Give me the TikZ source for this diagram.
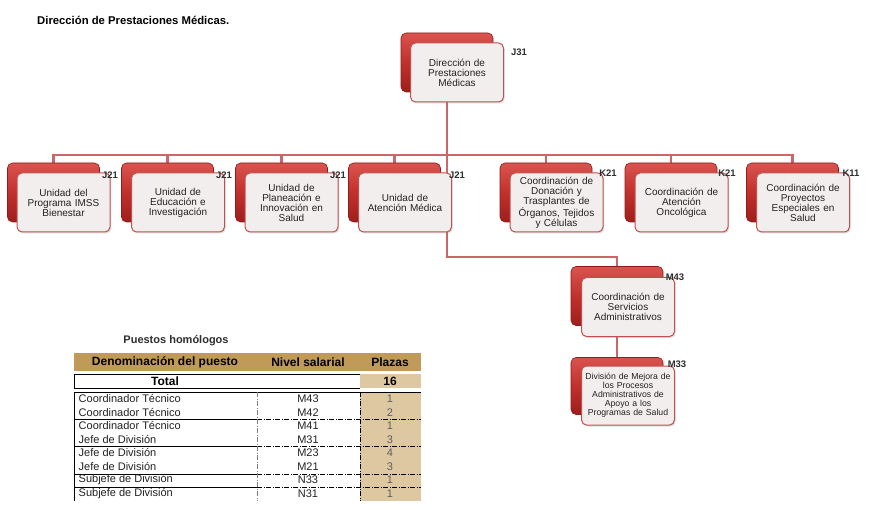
\documentclass[tikz,border=0pt]{standalone}
\usepackage{fontspec}
\setmainfont{Liberation Sans}
\usetikzlibrary{shadows}
\definecolor{conncol}{HTML}{C96868}
\definecolor{redtop}{HTML}{D9544F}
\definecolor{redmid}{HTML}{C2302C}
\definecolor{redbot}{HTML}{9E1E1C}
\definecolor{reddraw}{HTML}{8E1C1A}
\definecolor{frontfill}{HTML}{F3EEEE}
\definecolor{frontdraw}{HTML}{C0504D}
\definecolor{hdrtan}{HTML}{BF9A58}
\definecolor{celltan}{HTML}{DDC8A2}
\definecolor{numgray}{HTML}{5E5E5E}
\definecolor{txtdark}{HTML}{222222}
\definecolor{lblcol}{HTML}{2E2E2E}
\begin{document}
\begin{tikzpicture}[x=1pt,y=-1pt,
 redbox/.style={draw=reddraw, line width=0.6pt, rounded corners=5pt, top color=redtop, bottom color=redbot, middle color=redmid, minimum width=92pt, minimum height=59pt, inner sep=0pt},
 frontbox/.style={draw=frontdraw, line width=1pt, fill=frontfill, rounded corners=5pt, minimum width=93pt, minimum height=59pt, inner sep=1pt, text width=88pt, align=center, font=\fontsize{10}{10}\selectfont, text=txtdark, drop shadow={shadow xshift=1.2pt, shadow yshift=-1.5pt, opacity=0.25}},
 smalltext/.style={font=\fontsize{8.7}{9}\selectfont},
 lbl/.style={font=\fontsize{9.5}{10}\bfseries\selectfont, text=lblcol, inner sep=0pt},
 conn/.style={draw=conncol, line width=2.4pt},
 hdr/.style={font=\fontsize{12}{12}\bfseries\selectfont, inner sep=0pt},
 cell/.style={font=\fontsize{11}{12}\selectfont, inner sep=0pt, text=txtdark},
 numcell/.style={font=\fontsize{11}{12}\selectfont, inner sep=0pt, text=numgray},
 dashdotline/.style={dash pattern=on 5pt off 1.5pt on 1pt off 1.5pt}
]
\useasboundingbox (0,0) rectangle (869,510);
\fill[white] (0,0) rectangle (869,510);

% title
\node[anchor=west, font=\fontsize{11.3}{12}\bfseries\selectfont, inner sep=0pt] (title) at (37,20) {Dirección de Prestaciones Médicas.};

% coordinates for connectors
\coordinate (b1) at (53.5,155);
\coordinate (b7) at (792.5,155);
\coordinate (bend1) at (447,257);
\coordinate (bend2) at (617,257);

% positions of the back boxes
\path (447,62.5) coordinate (pt);
\path (53.5,192.5) coordinate (p1);
\path (167.5,192.5) coordinate (p2);
\path (281.5,192.5) coordinate (p3);
\path (394.5,192.5) coordinate (p4);
\path (546,192.5) coordinate (p5);
\path (671,192.5) coordinate (p6);
\path (792.5,192.5) coordinate (p7);
\path (617,296) coordinate (pm43);
\path (617,386) coordinate (pm33);

% connectors
\draw[conn] (pt) -- (bend1) -- (bend2) -- (pm43);
\draw[conn] (p1) -- (b1) -- (b7) -- (p7);
\foreach \k in {2,3,4,5,6}{\draw[conn] (p\k) -- (p\k |- b1);}
\draw[conn] (pm43) -- (pm33);

% red boxes
\node[redbox] (rt) at (pt) {};
\node[redbox] (r1) at (p1) {};
\node[redbox] (r2) at (p2) {};
\node[redbox] (r3) at (p3) {};
\node[redbox] (r4) at (p4) {};
\node[redbox] (r5) at (p5) {};
\node[redbox] (r6) at (p6) {};
\node[redbox] (r7) at (p7) {};
\node[redbox] (rm43) at (pm43) {};
\node[redbox, minimum height=57pt] (rm33) at (pm33) {};

% front boxes
\node[frontbox] (ft) at (457,72.5) {Dirección de\\Prestaciones\\Médicas};
\node[frontbox] (f1) at (63.5,202.5) {Unidad del\\Programa IMSS\\Bienestar};
\node[frontbox] (f2) at (178,202.5) {Unidad de\\Educación e\\Investigación};
\node[frontbox] (f3) at (291.5,202.5) {Unidad de\\Planeación e\\Innovación en\\Salud};
\node[frontbox] (f4) at (405,202.5) {Unidad de\\Atención Médica};
\node[frontbox] (f5) at (556.5,202.5) {Coordinación de\\Donación y\\Trasplantes de\\Órganos, Tejidos\\y Células};
\node[frontbox] (f6) at (681.5,202.5) {Coordinación de\\Atención\\Oncológica};
\node[frontbox] (f7) at (803,202.5) {Coordinación de\\Proyectos\\Especiales en\\Salud};
\node[frontbox] (fm43) at (628,307) {Coordinación de\\Servicios\\Administrativos};
\node[frontbox, smalltext] (fm33) at (628,395.5) {División de Mejora de\\los Procesos\\Administrativos de\\Apoyo a los\\Programas de Salud};

% level labels
\node[lbl] (lt) at (519,52) {J31};
\node[lbl] (l1) at (110,175) {J21};
\node[lbl] (l2) at (224,175) {J21};
\node[lbl] (l3) at (338,175) {J21};
\node[lbl] (l4) at (457,175) {J21};
\node[lbl] (l5) at (608,173) {K21};
\node[lbl] (l6) at (727,173) {K21};
\node[lbl] (l7) at (851,173) {K11};
\node[lbl] (lm43) at (675,277) {M43};
\node[lbl] (lm33) at (677,364) {M33};

% table
\node[font=\fontsize{11}{12}\bfseries\selectfont, inner sep=0pt, text=lblcol] (ttitle) at (176,341) {Puestos homólogos};
\fill[hdrtan] (74,353) rectangle (421,371);
\node[hdr] (h1) at (165,362) {Denominación del puesto};
\node[hdr] (h2) at (308,362) {Nivel salarial};
\node[hdr] (h3) at (390,362) {Plazas};

\fill[celltan] (360,374) rectangle (421,388);
\draw[line width=0.9pt] (360,374) -- (74,374) -- (74,388) -- (360,388);
\node[hdr] (tot) at (165,381) {Total};
\node[hdr] (totn) at (390,381) {16};

\fill[celltan] (360,392) rectangle (421,501);
\draw[line width=0.9pt] (421,392) -- (74,392) -- (74,501);
\foreach \yy in {419,446,474,487}{
  \draw[line width=0.7pt] (74,\yy) -- (257,\yy);
  \draw[line width=0.7pt, dashdotline] (257,\yy) -- (421,\yy);
}
\draw[line width=0.5pt, dashdotline, gray] (257,392) -- (257,501);
\draw[line width=0.6pt, dashdotline] (360,392) -- (360,501);

\foreach \i/\yy/\nm/\lv/\pl in {
 1/399/Coordinador Técnico/M43/1,
 2/412.5/Coordinador Técnico/M42/2,
 3/426/Coordinador Técnico/M41/1,
 4/439.5/Jefe de División/M31/3,
 5/453/Jefe de División/M23/4,
 6/466.5/Jefe de División/M21/3,
 7/480/Subjefe de División/N33/1,
 8/493.5/Subjefe de División/N31/1}{
  \node[cell, anchor=west] (c\i) at (78.5,\yy) {\nm};
  \node[cell] (v\i) at (308,\yy) {\lv};
  \node[numcell] (q\i) at (390,\yy) {\pl};
}
\end{tikzpicture}
\end{document}
